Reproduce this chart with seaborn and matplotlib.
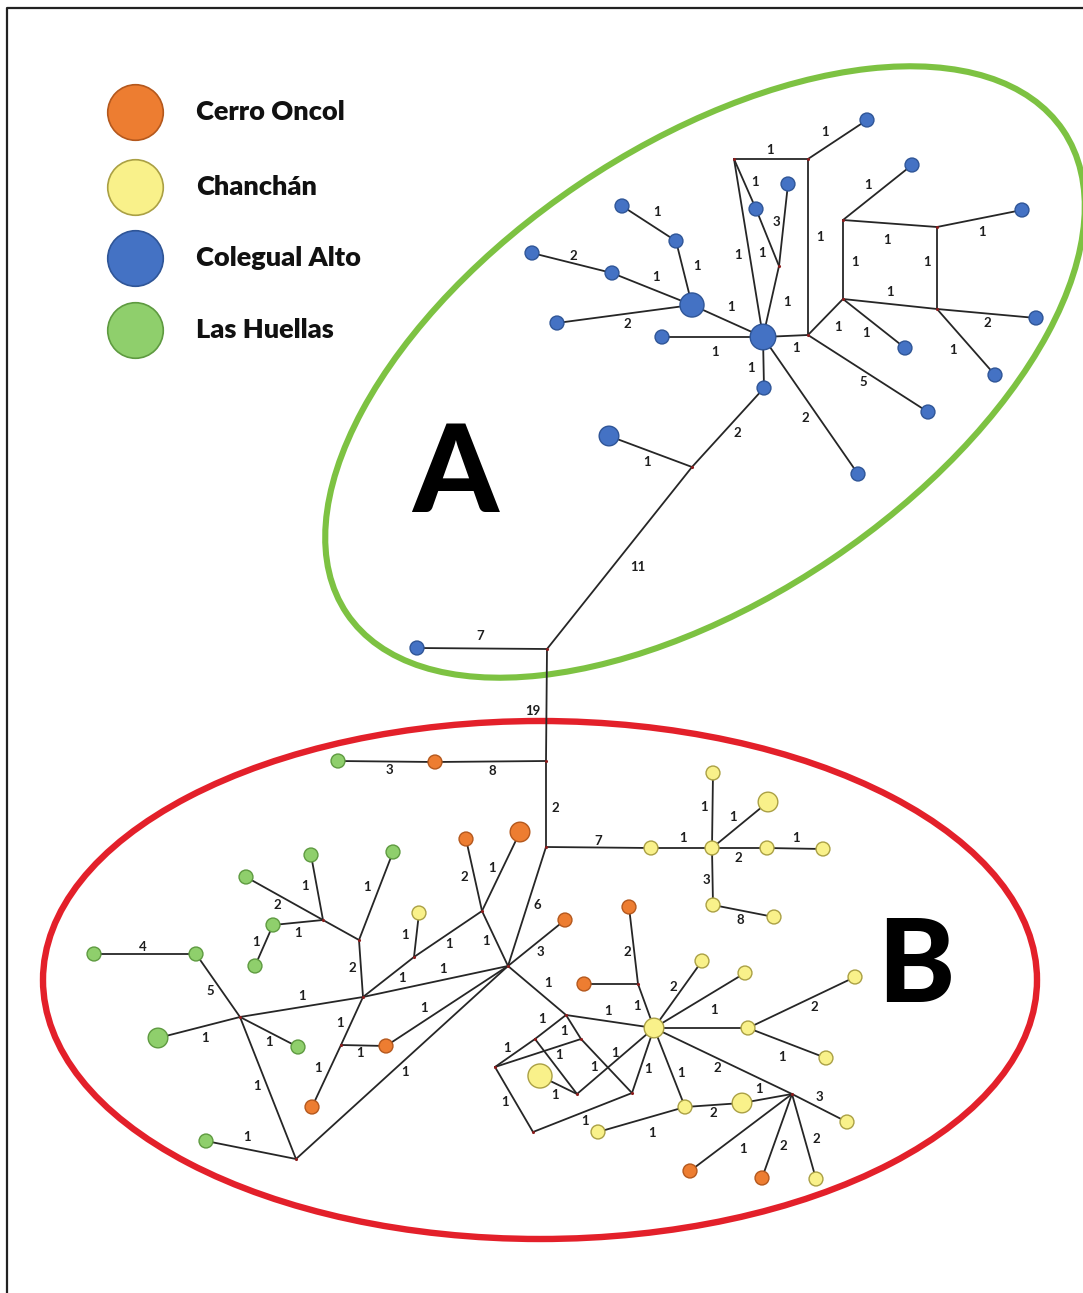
import matplotlib
matplotlib.use("Agg")
import matplotlib.pyplot as plt
from matplotlib.patches import Ellipse
import seaborn as sns
import pandas as pd

# ---------------- haplotypes (id, population, frequency) ----------------
hap_ids = ["b1", "b2", "b3", "b4", "b5", "b6", "b7", "b8", "b9", "b10", "b11",
           "b12", "b13", "b14", "b15", "b16", "b17", "b18", "b19", "b20", "b21",
           "g1", "g2", "g3", "g4", "g5", "g6", "g7", "g8", "g9", "g10", "g11",
           "o1", "o2", "o3", "o4", "o5", "o6", "o7", "o8", "o9", "o10",
           "y1", "y2", "y3", "y4", "y5", "y6", "y7", "y8", "y9", "y10", "y11",
           "y12", "y13", "y14", "y15", "y16", "y17", "y18", "y19", "y20", "y21"]
hap_pop = (["Colegual Alto"] * 21 + ["Las Huellas"] * 11 + ["Cerro Oncol"] * 10
           + ["Chanchán"] * 21)
hap_freq = [4, 3, 1, 1, 1, 1, 1, 1, 1, 1, 1, 1, 1, 1, 1, 1, 1, 1, 1, 2, 1,
            1, 1, 1, 1, 1, 1, 1, 2, 1, 1, 1,
            1, 1, 2, 1, 1, 1, 1, 1, 1, 1,
            1, 1, 1, 1, 2, 1, 1, 1, 1, 2, 1, 1, 1, 1, 1, 1, 2, 1, 1, 1, 3]

# network layout of the haplotypes (drawing coordinates)
hap_x = [763, 692, 622, 676, 532, 612, 557, 662, 764, 756, 788,
         867, 912, 1022, 1036, 995, 905, 928, 858, 609, 417,
         338, 311, 246, 273, 255, 94, 196, 158, 298, 206, 393,
         435, 466, 520, 565, 386, 312, 584, 629, 690, 762,
         419, 651, 712, 713, 768, 767, 823, 713, 774, 654, 702,
         745, 748, 855, 826, 685, 742, 847, 816, 598, 540]
hap_y = [337, 305, 206, 241, 253, 273, 323, 337, 388, 209, 184,
         120, 165, 210, 318, 375, 348, 412, 474, 436, 648,
         761, 855, 877, 925, 966, 954, 954, 1038, 1047, 1141, 852,
         762, 839, 832, 920, 1046, 1107, 984, 907, 1171, 1178,
         913, 848, 848, 773, 802, 848, 849, 905, 917, 1028, 961,
         973, 1028, 977, 1058, 1107, 1103, 1122, 1179, 1132, 1076]

# median vectors (inferred, unsampled) and their layout
median_ids = ["m1", "m2", "m3", "m4", "m5", "m6", "m7", "m8", "m9", "m10", "m11", "m12",
              "n1", "n2", "n3", "n4", "n5", "n6", "n7", "n8", "n9", "n10", "n11",
              "n12", "n13", "n14", "n15", "n16", "n17", "n18"]
median_x = [734, 808, 779, 808, 843, 937, 843, 937, 692, 547, 546, 546,
            482, 508, 323, 359, 414, 363, 240, 341, 296, 566, 535,
            581, 495, 577, 533, 632, 638, 792]
median_y = [159, 159, 266, 335, 220, 227, 299, 309, 467, 649, 761, 847,
            911, 966, 920, 940, 957, 997, 1017, 1045, 1159, 1015, 1039,
            1039, 1067, 1094, 1132, 1093, 984, 1094]

# ---------------- links: (from, to, mutational steps) ----------------
edge_from = ["b3", "b4", "b5", "b6", "b7", "b2", "b8", "b1", "m1", "m1", "b10", "b11", "m3",
             "m1", "m2", "b1", "m2", "m5", "m5", "m6", "m5", "m6", "m7", "m8", "m8", "m4",
             "m7", "m4", "b1", "b9", "b20", "m9", "b21", "m10",
             "g1", "o1", "m11", "m12", "y2", "y3", "y3", "y3", "y6", "y3", "y8",
             "o2", "o3", "m12", "n1", "n2", "g11", "y1", "n4", "n1", "n5", "n2", "n6",
             "n8", "n2", "n6", "n8", "n2", "n2", "g2", "g3", "n3", "g4", "g4", "g6", "g7",
             "g8", "n7", "n7", "g10", "n10", "o7", "o8", "n17", "y10", "y10", "y10",
             "y13", "y13", "y10", "y10", "y16", "y17", "n18", "n18", "n18", "n18", "y20",
             "n10", "n10", "n13", "n13", "n11", "n12", "n14", "n16", "n13", "y21", "n15"]
edge_to = ["b4", "b2", "b6", "b2", "b2", "b1", "b1", "b9", "b1", "b10", "m3", "m3", "b1",
           "m2", "m4", "m4", "b12", "b13", "m6", "b14", "m7", "m8", "m8", "b15", "b16", "m7",
           "b17", "b18", "b19", "m9", "m9", "m10", "m10", "m11",
           "o1", "m11", "m12", "y2", "y3", "y4", "y5", "y6", "y7", "y8", "y9",
           "n1", "n1", "n2", "n2", "o4", "n4", "n5", "n6", "n5", "n6", "n6", "n7",
           "o5", "o5", "n8", "o6", "n9", "n10", "n3", "n3", "n4", "n3", "g5", "g7", "n7",
           "n7", "g9", "n9", "n9", "y10", "n17", "n17", "y10", "y11", "y12", "y13",
           "y14", "y15", "n18", "y16", "y17", "n18", "y18", "y19", "o10", "o9", "y16",
           "n11", "n12", "n11", "n12", "n14", "n16", "y10", "y10", "n15", "n14", "n16"]
edge_steps = [1, 1, 2, 1, 2, 1, 1, 1, 1, 1, 3, 1, 1,
              1, 1, 1, 1, 1, 1, 1, 1, 1, 1, 2, 1, 1,
              1, 5, 2, 2, 1, 11, 7, 19,
              3, 8, 2, 7, 1, 1, 1, 2, 1, 3, 8,
              2, 1, 6, 1, 3, 1, 1, 2, 1, 1, 1, 1,
              1, 1, 1, 1, 1, 1, 1, 2, 0, 1, 1, 4, 5,
              1, 1, 1, 1, 1, 0, 2, 1, 2, 1, 0,
              2, 1, 2, 1, 2, 1, 3, 2, 2, 1, 1,
              1, 1, 1, 1, 0, 1, 1, 1, 1, 1, 1]
# where each step count is written
label_x = [657, 697, 573, 656, 627, 731, 715, 751, 738, 755, 776, 762, 787,
           770, 820, 796, 825, 868, 887, 982, 855, 927, 890, 987, 953, 838,
           866, 863, 805, 737, 647, 638, 480, 533,
           389, 492, 555, 598, 683, 704, 733, 738, 796, 706, 740,
           464, 492, 537, 486, 540, 367, 405, 352, 449, 402, 443, 302,
           360, 424, 340, 318, 405, 548, 305, 277, 0, 298, 256, 143, 210,
           205, 269, 257, 247, 608, 0, 627, 637, 673, 714, 0,
           814, 782, 717, 681, 713, 759, 819, 816, 783, 743, 652,
           542, 564, 507, 559, 0, 594, 615, 648, 505, 555, 585]
label_y = [212, 266, 256, 277, 324, 307, 352, 368, 255, 182, 222, 253, 302,
           150, 237, 348, 132, 185, 240, 232, 262, 262, 292, 323, 350, 327,
           333, 382, 418, 433, 462, 567, 636, 711,
           770, 771, 808, 841, 838, 807, 817, 858, 838, 880, 920,
           877, 868, 905, 941, 952, 887, 935, 968, 944, 978, 969, 996,
           1053, 1008, 1023, 1068, 1072, 983, 886, 905, 0, 933, 942, 947, 991,
           1038, 1042, 1086, 1137, 1011, 0, 952, 1006, 987, 1010, 0,
           1007, 1057, 1068, 1073, 1113, 1089, 1097, 1139, 1146, 1149, 1133,
           1019, 1031, 1048, 1055, 0, 1067, 1053, 1069, 1102, 1095, 1121]

populations = ["Cerro Oncol", "Chanchán", "Colegual Alto", "Las Huellas"]
pop_fill = {"Cerro Oncol": "#ed7d31", "Chanchán": "#f9f18a",
            "Colegual Alto": "#4472c4", "Las Huellas": "#8fcf6c"}
pop_edge = {"Cerro Oncol": "#b4581d", "Chanchán": "#aaa044",
            "Colegual Alto": "#2f5597", "Las Huellas": "#5e9a40"}
freq_sizes = {1: 100, 2: 200, 3: 300, 4: 340}

# ---------------- figure ----------------
sns.set_theme(style="white")
plt.rcParams["font.family"] = ["Lato", "DejaVu Sans"]

W, H = 1083, 1293
fig = plt.figure(figsize=(W / 100, H / 100), dpi=100)
ax = fig.add_axes([0, 0, 1, 1])
ax.set_xlim(0, W)
ax.set_ylim(H, 0)
ax.axis("off")

# frame
ax.plot([7, 7, W], [H, 8, 8], color="#222222", lw=1.6, solid_capstyle="butt", zorder=1)

# clade outlines
ax.add_patch(Ellipse((705, 372), 2 * 432, 2 * 226, angle=-34, fill=False,
                     ec="#7dc242", lw=4.4, zorder=1))
ax.add_patch(Ellipse((540, 980), 2 * 497, 2 * 259, angle=0, fill=False,
                     ec="#e3202a", lw=4.6, zorder=1))

# positions table
pos = {k: (x, y) for k, x, y in zip(hap_ids, hap_x, hap_y)}
pos.update({k: (x, y) for k, x, y in zip(median_ids, median_x, median_y)})

# links
for a, b, n, lx, ly in zip(edge_from, edge_to, edge_steps, label_x, label_y):
    (x0, y0), (x1, y1) = pos[a], pos[b]
    ax.plot([x0, x1], [y0, y1], color="#262626", lw=1.3, zorder=2)
    if n > 0:
        ax.text(lx, ly, str(n), ha="center", va="center", fontsize=9.5,
                fontweight="bold", color="#1e1e1e", zorder=5)

# median vectors
ax.scatter(median_x, median_y, s=5, color="#8b1c1c", zorder=3, linewidths=0)

# haplotypes
df = pd.DataFrame({"id": hap_ids, "x": hap_x, "y": hap_y,
                   "pop": hap_pop, "freq": hap_freq})
for p in populations:
    sub = df[df["pop"] == p]
    sns.scatterplot(data=sub, x="x", y="y", size="freq", sizes=freq_sizes,
                    color=pop_fill[p], edgecolor=pop_edge[p], linewidth=1.0,
                    legend=False, ax=ax, zorder=4)
ax.set_xlim(0, W)
ax.set_ylim(H, 0)
ax.set_xlabel("")
ax.set_ylabel("")

# legend
leg_y = [112, 187, 258, 330]
for p, ly in zip(populations, leg_y):
    ax.scatter([135], [ly], s=1600, color=pop_fill[p], edgecolor=pop_edge[p],
               linewidth=1.2, zorder=4)
    ax.text(196, ly, p, ha="left", va="center", fontsize=19.5, fontweight="heavy",
            color="#111111")

# clade letters
ax.text(455, 476, "A", ha="center", va="center", fontsize=88, fontweight="black",
        color="black")
ax.text(916, 968, "B", ha="center", va="center", fontsize=84, fontweight="black",
        color="black")

fig.savefig("out.png", dpi=100)
